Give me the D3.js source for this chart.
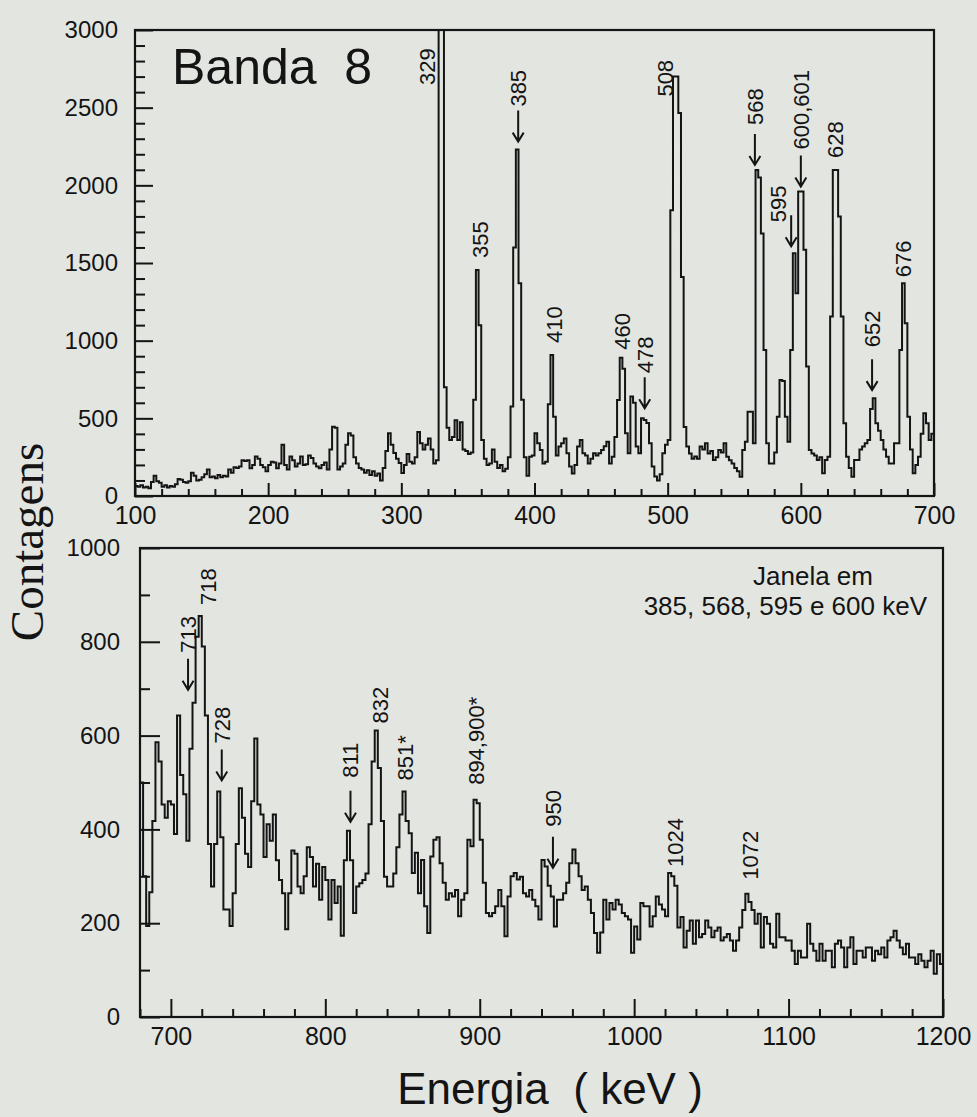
<!DOCTYPE html>
<html>
<head>
<meta charset="utf-8">
<script src="https://cdn.jsdelivr.net/npm/d3@7"></script>
<style>
  html, body { margin: 0; padding: 0; background: #e3e5e1; }
  svg { display: block; }
  text { font-family: "Liberation Sans", Arial, Helvetica, sans-serif; fill: #141414; }
</style>
</head>
<body>
<svg id="chart" width="977" height="1117"></svg>
<script>
// Gamma-ray spectra, 2 keV per channel.
const binWidth = 2;

// Total projection, 100-700 keV
const upperStart = 100;
const upperCounts = [
  65, 60, 70, 55, 60, 50, 90, 130, 95, 85,
  60, 70, 55, 65, 60, 75, 110, 105, 90, 85,
  95, 150, 130, 100, 105, 120, 140, 170, 120, 125,
  115, 135, 120, 130, 125, 170, 150, 185, 180, 190,
  230, 225, 230, 178, 200, 255, 240, 200, 185, 160,
  200, 220, 215, 178, 210, 330, 200, 170, 255, 230,
  190, 210, 255, 200, 205, 260, 245, 210, 190, 178,
  200, 215, 170, 300, 446, 440, 170, 190, 210, 330,
  404, 390, 250, 210, 180, 170, 150, 165, 135, 160,
  130, 145, 100, 180, 290, 404, 330, 277, 240, 212,
  148, 200, 270, 220, 210, 250, 412, 340, 300, 330,
  370, 300, 210, 230, 3400, 3400, 700, 440, 360, 380,
  488, 360, 475, 300, 290, 270, 280, 620, 1455, 1100,
  360, 240, 200, 210, 300, 220, 180, 200, 160, 175,
  250, 576, 1600, 2230, 1370, 620, 250, 130, 253, 260,
  404, 340, 296, 210, 220, 590, 908, 510, 260, 318,
  340, 370, 275, 190, 145, 200, 318, 360, 275, 260,
  210, 240, 275, 260, 275, 296, 320, 350, 210, 253,
  380, 618, 890, 820, 404, 275, 640, 600, 318, 275,
  500, 490, 470, 340, 190, 125, 100, 140, 275, 330,
  360, 1840, 2700, 2700, 2466, 1410, 444, 318, 274, 240,
  255, 240, 318, 300, 339, 274, 290, 232, 250, 296,
  280, 339, 253, 230, 210, 180, 160, 124, 296, 350,
  543, 543, 339, 2099, 2050, 1690, 940, 339, 210, 210,
  280, 511, 747, 740, 511, 350, 940, 1563, 1305, 1960,
  1960, 1585, 833, 296, 274, 260, 232, 250, 146, 232,
  253, 1155, 2099, 2099, 1799, 1155, 468, 253, 180, 124,
  232, 232, 300, 318, 340, 360, 560, 630, 468, 420,
  360, 300, 253, 210, 210, 339, 340, 940, 1370, 1112,
  511, 300, 146, 200, 253, 400, 532, 468, 360, 400
];

// Gated spectrum, 680-1200 keV
const lowerStart = 680;
const lowerCounts = [
  500, 300, 194, 266, 418, 586, 545, 453, 425, 460,
  453, 390, 643, 516, 475, 376, 572, 670, 811, 855,
  790, 643, 369, 278, 369, 481, 383, 229, 229, 194,
  264, 369, 488, 425, 348, 320, 460, 594, 453, 432,
  341, 411, 376, 432, 334, 292, 264, 187, 264, 355,
  348, 278, 264, 300, 362, 341, 278, 327, 250, 320,
  292, 208, 292, 243, 278, 173, 334, 397, 334, 222,
  278, 285, 292, 306, 411, 545, 611, 531, 418, 299,
  278, 278, 306, 362, 432, 481, 418, 392, 307, 350,
  264, 335, 236, 179, 342, 378, 383, 328, 286, 250,
  264, 257, 271, 215, 250, 264, 378, 364, 463, 456,
  378, 286, 222, 215, 222, 236, 271, 236, 172, 257,
  300, 307, 293, 299, 264, 257, 271, 250, 236, 208,
  335, 321, 280, 257, 193, 250, 250, 264, 286, 328,
  357, 328, 300, 271, 278, 250, 222, 179, 137, 180,
  250, 208, 243, 229, 250, 240, 222, 215, 208, 137,
  193, 165, 243, 236, 236, 193, 215, 257, 240, 229,
  215, 307, 300, 280, 191, 213, 148, 184, 206, 156,
  206, 170, 177, 206, 191, 170, 184, 191, 163, 170,
  177, 163, 141, 163, 191, 228, 263, 245, 228, 199,
  220, 148, 213, 199, 156, 148, 220, 170, 170, 163,
  163, 141, 113, 141, 127, 127, 199, 156, 141, 120,
  156, 120, 141, 141, 106, 156, 163, 148, 106, 148,
  170, 113, 141, 141, 127, 148, 148, 120, 141, 134,
  148, 127, 163, 170, 184, 163, 148, 134, 156, 127,
  127, 113, 134, 120, 106, 120, 141, 92, 134, 113
];

// Axis ticks
const upperXTicks = [100, 200, 300, 400, 500, 600, 700];
const upperYTicks = [0, 500, 1000, 1500, 2000, 2500, 3000];
const lowerXTicks = [700, 800, 900, 1000, 1100, 1200];
const lowerYTicks = [0, 200, 400, 600, 800, 1000];

// Peak labels: text, energy of the peak it marks, arrow or not
const upperPeaks = [
  { text: "329", e: 330, arrow: false },
  { text: "355", e: 357, arrow: false },
  { text: "385", e: 387, arrow: true },
  { text: "410", e: 413, arrow: false },
  { text: "460", e: 465, arrow: false },
  { text: "478", e: 482, arrow: true },
  { text: "508", e: 506, arrow: false },
  { text: "568", e: 567, arrow: true },
  { text: "595", e: 595, arrow: true },
  { text: "600,601", e: 600, arrow: true },
  { text: "628", e: 626, arrow: false },
  { text: "652", e: 655, arrow: true },
  { text: "676", e: 677, arrow: false }
];
const lowerPeaks = [
  { text: "713", e: 715, arrow: true },
  { text: "718", e: 719, arrow: false },
  { text: "728", e: 731, arrow: true },
  { text: "811", e: 815, arrow: true },
  { text: "832", e: 833, arrow: false },
  { text: "851*", e: 851, arrow: false },
  { text: "894,900*", e: 897, arrow: false },
  { text: "950", e: 950, arrow: true },
  { text: "1024", e: 1023, arrow: false },
  { text: "1072", e: 1073, arrow: false }
];

// Label placement: horizontal shift, gap above the peak top, and for
// arrowed labels the distance from arrow tip to the start of the text.
const placement = {
  "329": { dx: -14, gap: -55 },
  "355": { dx: 3, gap: 12 },
  "385": { dx: 1, gap: 8, lift: 35 },
  "410": { dx: 2, gap: 12 },
  "460": { dx: 1, gap: 8 },
  "478": { dx: 1, gap: 10, lift: 35 },
  "508": { dx: -11, gap: -20 },
  "568": { dx: -2, gap: 5, lift: 40 },
  "595": { dx: -16, adx: -3, gap: 7, lift: 24 },
  "600,601": { dx: 0, gap: 5, lift: 37 },
  "628": { dx: 0, gap: 12 },
  "652": { dx: -2, gap: 8, lift: 43 },
  "676": { dx: 0, gap: 6 },
  "713": { dx: -6, gap: 13, lift: 37 },
  "718": { dx: 8, gap: 11 },
  "728": { dx: 3, gap: 11, lift: 37 },
  "811": { dx: 2, gap: 9, lift: 44 },
  "832": { dx: 4, gap: 7 },
  "851*": { dx: 1, gap: 11 },
  "894,900*": { dx: 1, gap: 15 },
  "950": { dx: -4, gap: 32, lift: 41 },
  "1024": { dx: 5, gap: 6 },
  "1072": { dx: 3, gap: 14 }
};

const ink = "#141414";
const svg = d3.select("#chart");

function histogramPoints(start, counts) {
  const pts = counts.map((c, i) => [start + i * binWidth, c]);
  pts.push([start + counts.length * binWidth, counts[counts.length - 1]]);
  return pts;
}

// highest channel whose centre lies within 1 keV of e
function peakTop(start, counts, e) {
  let m = 0;
  counts.forEach((c, i) => {
    const centre = start + i * binWidth + binWidth / 2;
    if (Math.abs(centre - e) <= 1) m = Math.max(m, c);
  });
  return m;
}

function styleLabels(g, fontSize) {
  g.select(".domain").remove();
  g.selectAll("text")
    .attr("fill", ink)
    .attr("font-size", fontSize)
    .attr("font-family", "'Liberation Sans', Arial, Helvetica, sans-serif");
}

function drawPanel(o) {
  const { x, y, start, counts, id } = o;
  const [x0, x1] = x.range();
  const [yb, yt] = y.range();
  const g = svg.append("g");

  g.append("clipPath").attr("id", id)
    .append("rect").attr("x", x0).attr("y", yt).attr("width", x1 - x0).attr("height", yb - yt);

  // spectrum
  g.append("path")
    .datum(histogramPoints(start, counts))
    .attr("clip-path", `url(#${id})`)
    .attr("fill", "none")
    .attr("stroke", ink)
    .attr("stroke-width", 2)
    .attr("d", d3.line().x(d => x(d[0])).y(d => y(Math.min(d[1], y.domain()[1] * 1.2))).curve(d3.curveStepAfter));

  // frame
  g.append("rect")
    .attr("x", x0).attr("y", yt).attr("width", x1 - x0).attr("height", yb - yt)
    .attr("fill", "none").attr("stroke", ink).attr("stroke-width", 2.2);

  // minor tick values
  const first = Math.ceil(x.domain()[0] / o.xMinorStep) * o.xMinorStep;
  const xMinor = d3.range(first, x.domain()[1] + 0.1, o.xMinorStep).filter(v => v % o.xMajorStep !== 0);
  const yMinor = d3.range(0, y.domain()[1] + 0.1, o.yMinorStep).filter(v => v % o.yMajorStep !== 0);

  const styleTicks = a => {
    a.select(".domain").remove();
    a.selectAll(".tick line").attr("stroke", ink).attr("stroke-width", 2);
  };

  // inward minor ticks
  g.append("g").attr("transform", `translate(0,${yb})`)
    .call(d3.axisTop(x).tickValues(xMinor).tickSize(o.xMinorLen).tickFormat(() => ""))
    .call(styleTicks);
  g.append("g").attr("transform", `translate(${x0},0)`)
    .call(d3.axisRight(y).tickValues(yMinor).tickSize(o.yMinorLen).tickFormat(() => ""))
    .call(styleTicks);
  // inward major ticks
  g.append("g").attr("transform", `translate(0,${yb})`)
    .call(d3.axisTop(x).tickValues(o.xTicks).tickSize(o.xMajorLen).tickFormat(() => ""))
    .call(styleTicks);
  g.append("g").attr("transform", `translate(${x0},0)`)
    .call(d3.axisRight(y).tickValues(o.yTicks).tickSize(o.yMajorLen).tickFormat(() => ""))
    .call(styleTicks);

  // tick labels
  g.append("g").attr("transform", `translate(0,${yb})`)
    .call(d3.axisBottom(x).tickValues(o.xTicks).tickSize(0).tickPadding(o.xPad).tickFormat(d3.format("d")))
    .call(a => styleLabels(a, 25));
  g.append("g").attr("transform", `translate(${x0},0)`)
    .call(d3.axisLeft(y).tickValues(o.yTicks).tickSize(0).tickPadding(o.yPad).tickFormat(d3.format("d")))
    .call(a => styleLabels(a, 24));

  // peak labels
  const labels = g.append("g");
  o.peaks.forEach(p => {
    const pl = placement[p.text];
    const top = y(Math.min(peakTop(start, counts, p.e), y.domain()[1]));
    const xc = x(p.e);
    const tip = top - pl.gap;
    let textStart = tip;
    if (p.arrow) {
      const ax = xc + (pl.adx !== undefined ? pl.adx : pl.dx);
      const len = 31;
      labels.append("path")
        .attr("d", `M${ax},${tip - len}L${ax},${tip}M${ax - 5.5},${tip - 9}L${ax},${tip}L${ax + 5.5},${tip - 9}`)
        .attr("fill", "none").attr("stroke", ink).attr("stroke-width", 2);
      textStart = tip - pl.lift;
    }
    labels.append("text")
      .attr("transform", `translate(${xc + pl.dx},${textStart}) rotate(-90)`)
      .attr("dy", "0.36em")
      .attr("font-size", 22)
      .text(p.text);
  });
  return g;
}

// Upper panel: 100-700 keV
const xUpper = d3.scaleLinear().domain([100, 700]).range([135, 934]);
const yUpper = d3.scaleLinear().domain([0, 3000]).range([496, 30]);
drawPanel({
  id: "clip-upper", x: xUpper, y: yUpper, start: upperStart, counts: upperCounts,
  xTicks: upperXTicks, yTicks: upperYTicks, peaks: upperPeaks,
  xMajorStep: 100, xMinorStep: 20, yMajorStep: 500, yMinorStep: 100,
  xMajorLen: 13, xMinorLen: 7, yMajorLen: 18, yMinorLen: 10, xPad: 10, yPad: 17
});

// Lower panel: 680-1200 keV
const xLower = d3.scaleLinear().domain([680, 1200]).range([140, 943]);
const yLower = d3.scaleLinear().domain([0, 1000]).range([1017, 548]);
drawPanel({
  id: "clip-lower", x: xLower, y: yLower, start: lowerStart, counts: lowerCounts,
  xTicks: lowerXTicks, yTicks: lowerYTicks, peaks: lowerPeaks,
  xMajorStep: 100, xMinorStep: 20, yMajorStep: 200, yMinorStep: 100,
  xMajorLen: 18, xMinorLen: 8, yMajorLen: 20, yMinorLen: 10, xPad: 10, yPad: 20
});

// Panel title
svg.append("text")
  .attr("x", 172).attr("y", 84)
  .attr("font-size", 50)
  .text("Banda\u00a0\u00a08");

// Gate note
svg.append("text")
  .attr("x", 873).attr("y", 585).attr("text-anchor", "end")
  .attr("font-size", 26).text("Janela em");
svg.append("text")
  .attr("x", 927).attr("y", 615).attr("text-anchor", "end")
  .attr("font-size", 26).text("385, 568, 595 e 600 keV");

// Axis titles
svg.append("text")
  .attr("transform", "translate(43,542) rotate(-90)")
  .attr("text-anchor", "middle")
  .attr("font-size", 47)
  .style("font-family", "'Liberation Serif', 'Times New Roman', serif")
  .text("Contagens");
svg.append("text")
  .attr("x", 550).attr("y", 1104)
  .attr("text-anchor", "middle")
  .attr("font-size", 44)
  .text("Energia\u00a0\u00a0( keV )");
</script>
</body>
</html>
